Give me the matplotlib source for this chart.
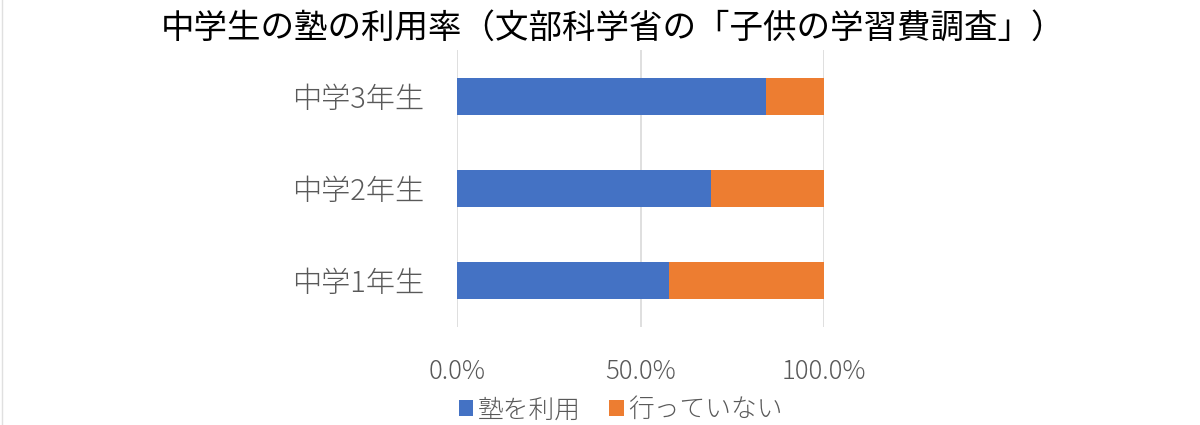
import matplotlib
matplotlib.use("Agg")
import matplotlib.pyplot as plt
from matplotlib.patches import Patch
from matplotlib.lines import Line2D

plt.rcParams['font.family'] = ['Noto Sans CJK JP', 'DejaVu Sans']
plt.rcParams['font.weight'] = 300

categories = ["中学1年生", "中学2年生", "中学3年生"]
juku = [57.8, 69.1, 84.1]
not_going = [100 - v for v in juku]
series_names = ["塾を利用", "行っていない"]
xticks = [0, 50, 100]
xtick_labels = ["0.0%", "50.0%", "100.0%"]
title = "中学生の塾の利用率（文部科学省の「子供の学習費調査」）"

blue = "#4472C4"
orange = "#ED7D31"
grey_text = "#595959"

fig = plt.figure(figsize=(12, 4.25), dpi=100)
ax = fig.add_axes([457.3 / 1200, 1 - 326.5 / 425, (824 - 457.3) / 1200, (326.5 - 50) / 425])

y = list(range(len(categories)))
ax.barh(y, juku, height=0.4, color=blue, zorder=3)
ax.barh(y, not_going, left=juku, height=0.4, color=orange, zorder=3)

ax.set_xlim(0, 100)
ax.set_ylim(-0.5, len(categories) - 0.5)
ax.set_xticks(xticks)
ax.set_xticklabels(xtick_labels)
ax.set_yticks(y)
ax.set_yticklabels(categories)
for s in ax.spines.values():
    s.set_visible(False)
ax.grid(axis='x', color="#D9D9D9", linewidth=1.2, zorder=0)
ax.tick_params(axis='x', length=0, pad=23, labelsize=18.5, labelcolor=grey_text)
ax.tick_params(axis='y', length=0, pad=24, labelsize=21, labelcolor=grey_text)

fig.text(0.5105, 1 - 28 / 425, title, ha='center', va='center', fontsize=24.1,
         color='black', fontweight='normal')

handles = [Patch(facecolor=blue), Patch(facecolor=orange)]
fig.legend(handles, series_names, loc='center', bbox_to_anchor=(0.5175, 1 - 410 / 425),
           ncol=2, frameon=False, fontsize=18.5, handlelength=0.55, handleheight=0.55,
           handletextpad=0.2, columnspacing=1.1, labelcolor=grey_text)

fig.add_artist(Line2D([0.0015, 0.0015], [0, 1], color="#E0E0E0", linewidth=1, transform=fig.transFigure))

fig.savefig("out.png", dpi=100, facecolor='white')
